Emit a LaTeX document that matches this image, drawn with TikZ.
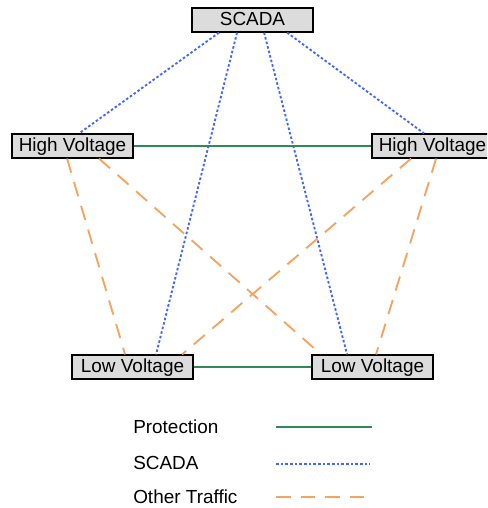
\documentclass[tikz,border=0pt]{standalone}
\usepackage{fontspec}
\setmainfont{Liberation Sans}
\usetikzlibrary{calc}
\definecolor{protgreen}{RGB}{46,139,87}
\definecolor{scadablue}{RGB}{65,105,245}
\definecolor{trafficorange}{RGB}{244,164,96}
\definecolor{boxgray}{RGB}{220,220,220}
\begin{document}
\begin{tikzpicture}[x=0.75pt,y=-0.75pt,
  unitbox/.style={draw=black,line width=1.4pt,fill=boxgray,minimum width=90.75pt,
    minimum height=17.5pt,inner sep=0pt,text height=9.8pt,text depth=1.2pt,
    font=\fontsize{14.2pt}{16pt}\selectfont},
  legtext/.style={anchor=west,inner sep=0pt,font=\fontsize{14.2pt}{16pt}\selectfont},
  protection/.style={draw=protgreen,line width=1.45pt},
  scadalink/.style={draw=scadablue,line width=1.4pt,dash pattern=on 1.9pt off 1.6pt},
  othertraffic/.style={draw=trafficorange,line width=1.4pt,dash pattern=on 11pt off 7.5pt}]
\clip (0,0) rectangle (487,508);

% units
\node[unitbox] (sc)  at (252.5,20)  {SCADA};
\node[unitbox] (hvl) at (72.5,146)  {High Voltage};
\node[unitbox] (hvr) at (432.5,146) {High Voltage};
\node[unitbox] (lvl) at (132.5,367) {Low Voltage};
\node[unitbox] (lvr) at (372.5,367) {Low Voltage};

% SCADA links
\draw[scadalink] ($(sc.south west)+(28,0)$) -- ($(hvl.north west)+(68,0)$);
\draw[scadalink] ($(sc.south west)+(46,0)$) -- ($(lvl.north west)+(85,0)$);
\draw[scadalink] ($(sc.south west)+(73,0)$) -- ($(lvr.north west)+(36,0)$);
\draw[scadalink] ($(sc.south west)+(96,0)$) -- ($(hvr.north west)+(53,0)$);

% protection links
\draw[protection] (hvl.east) -- (hvr.west);
\draw[protection] (lvl.east) -- (lvr.west);

% other traffic
\draw[othertraffic] ($(hvl.south west)+(56,0)$) -- ($(lvl.north west)+(54,0)$);
\draw[othertraffic] ($(hvl.south west)+(88,0)$) -- ($(lvr.north west)+(10,0)$);
\draw[othertraffic] ($(hvr.south west)+(40,0)$) -- ($(lvl.north west)+(111,0)$);
\draw[othertraffic] ($(hvr.south west)+(65,0)$) -- ($(lvr.north west)+(65,0)$);

% legend
\node[legtext] (lp) at (133,427) {Protection};
\node[legtext] (ls) at (133,463) {SCADA};
\node[legtext] (lo) at (133,497) {Other Traffic};
\coordinate (lpa) at (276,427); \coordinate (lpb) at (372,427);
\coordinate (lsa) at (276,464); \coordinate (lsb) at (370,464);
\coordinate (loa) at (276,497); \coordinate (lob) at (364,497);
\draw[protection] (lpa) -- (lpb);
\draw[scadalink] (lsa) -- (lsb);
\draw[othertraffic] (loa) -- (lob);
\end{tikzpicture}
\end{document}
